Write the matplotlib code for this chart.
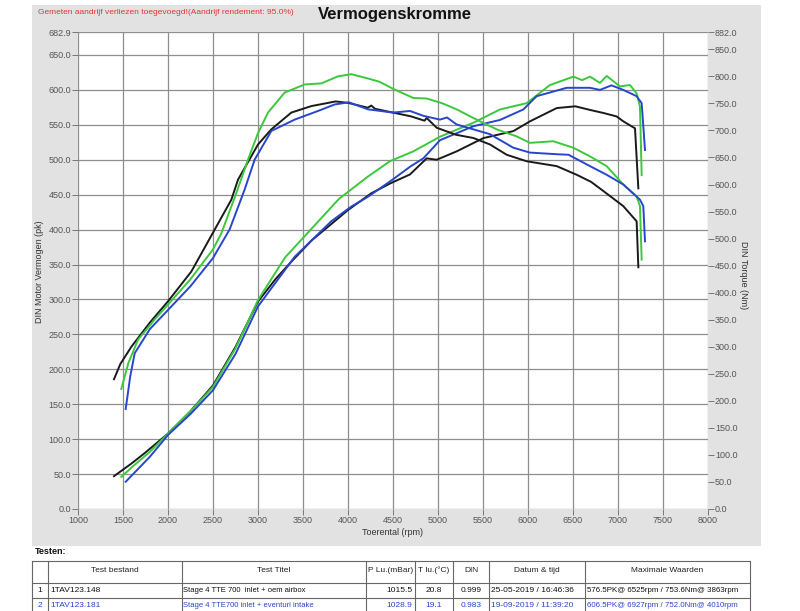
import numpy as np
import matplotlib
matplotlib.use('Agg')
import matplotlib.pyplot as plt
from matplotlib.patches import Rectangle

plt.rcParams['font.family'] = ['Liberation Sans', 'DejaVu Sans']

# ---- curve data ----
# power (pk, left axis)
rpm_pk_black = [1400, 1593, 1741, 2000, 2250, 2500, 2750, 3000, 3200, 3370, 3600, 3852, 4000,
                4259, 4467, 4689, 4874, 4985, 5207, 5504, 5837, 6022, 6319, 6525, 6700,
                6837, 6985, 7059, 7189, 7226]
pk_black = [47, 65, 80, 108, 140, 177, 232, 297, 330, 354, 385, 412, 428,
            452, 466, 479, 502, 500, 512, 531, 541, 555, 574, 576.5, 571,
            567, 562, 555, 545, 459]

rpm_pk_green = [1481, 1600, 1800, 2000, 2250, 2500, 2750, 3000, 3300, 3600, 3900, 4222, 4467,
                4726, 5022, 5393, 5689, 5985, 6244, 6504, 6600, 6689, 6800, 6874, 7022,
                7133, 7207, 7244, 7263]
pk_green = [46, 60, 82, 108, 140, 175, 230, 299, 360, 402, 444, 476, 498,
            512, 533, 553, 572, 581, 607, 619, 614, 619, 610, 620, 605,
            607, 595, 576, 478]

rpm_pk_blue = [1530, 1650, 1800, 2000, 2250, 2500, 2750, 3000, 3407, 3815, 4037, 4222, 4500,
               4689, 4837, 5022, 5393, 5689, 5948, 6096, 6430, 6689, 6800, 6927, 7059,
               7207, 7263, 7300]
pk_blue = [39, 55, 75, 106, 136, 170, 222, 290, 361, 412, 433, 447, 472,
           490, 502, 528, 548, 557, 572, 591, 603, 603, 600, 606.5, 600,
           591, 581, 514]

# torque (Nm, right axis)
rpm_nm_black = [1400, 1470, 1593, 1800, 2000, 2259, 2500, 2704, 2778, 3000, 3148, 3370, 3593,
                3863, 4000, 4220, 4259, 4300, 4500, 4700, 4850, 4874, 4985, 5200, 5393,
                5578, 5763, 5985, 6319, 6541, 6700, 6837, 7059, 7207, 7226]
nm_black = [240, 268, 300, 345, 384, 439, 511, 572, 609, 674, 702, 733, 745,
            753.6, 751, 742, 746, 740, 733, 726, 718, 723, 705, 692, 686,
            674, 655, 643, 634, 618, 605, 588, 560, 532, 447]

rpm_nm_green = [1481, 1560, 1667, 1850, 2000, 2250, 2500, 2593, 2750, 2889, 3000, 3111, 3296,
                3519, 3704, 3889, 4037, 4222, 4350, 4500, 4726, 4874, 5050, 5207, 5393,
                5652, 5874, 6022, 6281, 6504, 6689, 6874, 7059, 7207, 7244, 7263]
nm_green = [222, 270, 313, 350, 378, 425, 480, 510, 580, 646, 695, 733, 770,
            785, 787, 800, 804, 796, 790, 777, 760, 759, 750, 739, 723,
            702, 689, 677, 680, 668, 652, 634, 600, 578, 560, 461]

rpm_nm_blue = [1530, 1580, 1630, 1800, 2000, 2250, 2500, 2685, 2850, 2963, 3148, 3407, 3667,
               3852, 4010, 4222, 4500, 4689, 4837, 5022, 5100, 5207, 5578, 5837, 6022,
               6319, 6450, 6689, 6874, 7059, 7244, 7281, 7300]
nm_blue = [185, 245, 288, 333, 368, 412, 464, 517, 590, 646, 699, 720, 736,
           748, 752, 739, 733, 736, 727, 720, 724, 711, 693, 668, 659,
           656, 655, 634, 618, 600, 572, 560, 495]

# axis ticks
x_ticks = list(range(1000, 8001, 500))
left_ticks = list(range(0, 651, 50)) + [682.9]
right_ticks = list(range(0, 851, 50)) + [882.0]

# table content
col_headers = ['', 'Test bestand', 'Test Titel', 'P Lu.(mBar)', 'T lu.(°C)', 'DIN',
               'Datum & tijd', 'Maximale Waarden']
row1 = ['1', '1TAV123.148', 'Stage 4 TTE 700  inlet + oem airbox', '1015.5', '20.8', '0.999',
        '25-05-2019 / 16:46:36', '576.5PK@ 6525rpm / 753.6Nm@ 3863rpm']
row2 = ['2', '1TAV123.181', 'Stage 4 TTE700 inlet + eventuri intake', '1028.9', '19.1', '0.983',
        '19-09-2019 / 11:39:20', '606.5PK@ 6927rpm / 752.0Nm@ 4010rpm']

c_black = '#1a1a1a'
c_green = '#3cc83c'
c_blue = '#2846cc'
txt_gray = '#555555'

W, H = 800, 611
fig = plt.figure(figsize=(W / 100, H / 100), dpi=100)
fig.patch.set_facecolor('white')

# overlay in pixel coordinates for background panel and table
ov = fig.add_axes([0, 0, 1, 1], zorder=-1)
ov.set_xlim(0, W)
ov.set_ylim(H, 0)
ov.axis('off')
ov.add_patch(Rectangle((32, 5), 729, 541, facecolor='#e2e2e2', edgecolor='none'))

# main axes
ax = fig.add_axes([78 / W, 1 - 509 / H, 630 / W, 477 / H], zorder=1)
ax.set_facecolor('white')
ax2 = ax.twinx()

ax.plot(rpm_pk_black, pk_black, color=c_black, lw=1.4)
ax.plot(rpm_pk_green, pk_green, color=c_green, lw=1.4)
ax.plot(rpm_pk_blue, pk_blue, color=c_blue, lw=1.4)
ax2.plot(rpm_nm_black, nm_black, color=c_black, lw=1.4)
ax2.plot(rpm_nm_green, nm_green, color=c_green, lw=1.4)
ax2.plot(rpm_nm_blue, nm_blue, color=c_blue, lw=1.4)

ax.set_xlim(1000, 8000)
ax.set_ylim(0, 682.9)
ax2.set_ylim(0, 882.0)

ax.set_xticks(x_ticks)
ax.set_xticklabels([str(t) for t in x_ticks])
ax.set_yticks(left_ticks)
ax.set_yticklabels([f'{t:.1f}' for t in left_ticks])
ax2.set_yticks(right_ticks)
ax2.set_yticklabels([f'{t:.1f}' for t in right_ticks])

ax.grid(True, color='#8e8e8e', lw=0.9)
ax.set_axisbelow(True)
for a in (ax, ax2):
    for s in a.spines.values():
        s.set_visible(False)
ax.tick_params(axis='both', direction='out', length=4, width=0.7, color='#777777',
               labelsize=6.5, labelcolor=txt_gray, pad=1)
ax2.tick_params(axis='y', direction='out', length=4, width=0.7, color='#777777',
                labelsize=6.5, labelcolor=txt_gray, pad=1)

ax.set_xlabel('Toerental (rpm)', fontsize=6.5, color='#333333', labelpad=2)
fig.text(0.05, 0.555, 'DIN Motor Vermogen (pk)', rotation=90, ha='center', va='center',
         fontsize=6.5, color='#333333')
fig.text(0.929, 0.55, 'DIN Torque (Nm)', rotation=270, ha='center', va='center',
         fontsize=6.5, color='#333333')

fig.text(0.494, 0.9755, 'Vermogenskromme', ha='center', va='center', fontsize=12,
         fontweight='bold', color='#111111')
fig.text(38 / W, 1 - 12 / H, 'Gemeten aandrijf verliezen toegevoegd!(Aandrijf rendement: 95.0%)',
         ha='left', va='center', fontsize=6, color='#e03535')

# ---- table ----
ov.text(35, 551, 'Testen:', fontsize=6.5, fontweight='bold', va='center', ha='left', color='#111111')
cols = [32, 48, 182, 366, 415, 453, 489, 585, 750]
rows = [561, 583, 598, 613]
ov.add_patch(Rectangle((cols[0], rows[0]), cols[-1] - cols[0], rows[-1] - rows[0],
                       facecolor='white', edgecolor='none'))
for x in cols:
    ov.plot([x, x], [rows[0], rows[-1]], color='#666666', lw=0.8)
for y in rows[:-1]:
    ov.plot([cols[0], cols[-1]], [y, y], color='#666666', lw=0.8)

for i, h in enumerate(col_headers):
    ov.text((cols[i] + cols[i + 1]) / 2, 570, h, ha='center', va='center', fontsize=6,
            color='#222222')


def draw_row(vals, y, color):
    ov.text((cols[0] + cols[1]) / 2, y, vals[0], ha='center', va='center', fontsize=6, color=color)
    ov.text(cols[1] + 2, y, vals[1], ha='left', va='center', fontsize=6, color=color)
    ov.text(cols[2] + 1, y, vals[2], ha='left', va='center', fontsize=5.5, color=color)
    ov.text(cols[4] - 3, y, vals[3], ha='right', va='center', fontsize=6, color=color)
    ov.text((cols[4] + cols[5]) / 2, y, vals[4], ha='center', va='center', fontsize=6, color=color)
    ov.text((cols[5] + cols[6]) / 2, y, vals[5], ha='center', va='center', fontsize=6, color=color)
    ov.text(cols[6] + 2, y, vals[6], ha='left', va='center', fontsize=6, color=color)
    ov.text(cols[7] + 2, y, vals[7], ha='left', va='center', fontsize=5.7, color=color)


draw_row(row1, 590.5, '#111111')
draw_row(row2, 605.5, '#2846cc')

fig.savefig('out.png', dpi=100)
